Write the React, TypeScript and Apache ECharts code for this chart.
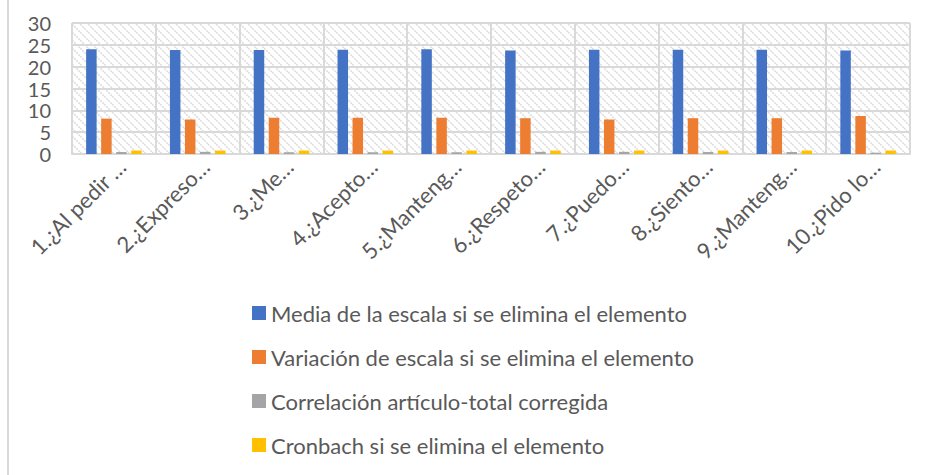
import React, { useEffect, useRef } from "react";
import * as echarts from "echarts";

const categories = [
  "1.¿Al pedir …",
  "2.¿Expreso…",
  "3.¿Me…",
  "4.¿Acepto…",
  "5.¿Manteng…",
  "6.¿Respeto…",
  "7.¿Puedo…",
  "8.¿Siento…",
  "9.¿Manteng…",
  "10.¿Pido lo…",
];

const seriesNames = [
  "Media de la escala si se elimina el elemento",
  "Variación de escala si se elimina el elemento",
  "Correlación artículo-total corregida",
  "Cronbach si se elimina el elemento",
];

const media = [24.0, 23.8, 23.8, 23.9, 24.0, 23.7, 23.9, 23.9, 23.9, 23.7];
const variacion = [8.1, 7.9, 8.3, 8.3, 8.3, 8.2, 7.9, 8.2, 8.2, 8.7];
const correlacion = [0.45, 0.5, 0.4, 0.4, 0.4, 0.5, 0.5, 0.45, 0.45, 0.3];
const cronbach = [0.78, 0.78, 0.78, 0.78, 0.78, 0.78, 0.78, 0.78, 0.78, 0.78];

const yTicks = [0, 5, 10, 15, 20, 25, 30];

const colors = ["#4472C4", "#ED7D31", "#A5A5A5", "#FFC000"];
const FONT = "Lato";
const TEXT = "#595959";

const patternSvg =
  "data:image/svg+xml;charset=utf-8," +
  encodeURIComponent(
    '<svg xmlns="http://www.w3.org/2000/svg" width="8" height="8">' +
      '<rect width="8" height="8" fill="#ffffff"/>' +
      '<path d="M-2,-2 L10,10 M-2,6 L2,10 M6,-2 L10,2" stroke="#dcdcdc" stroke-width="1.5" stroke-dasharray="2,1"/>' +
      "</svg>"
  );

export default function App() {
  const ref = useRef<HTMLDivElement>(null);
  useEffect(() => {
    if (!ref.current) return;
    const chart = echarts.init(ref.current, undefined, { renderer: "svg" });
    const data = [media, variacion, correlacion, cronbach];
    chart.setOption({
      animation: false,
      backgroundColor: "#ffffff",
      textStyle: { fontFamily: FONT },
      grid: {
        left: 72,
        right: 15,
        top: 23,
        bottom: 321,
        show: true,
        backgroundColor: {
          image: patternSvg,
          repeat: "repeat",
          imageWidth: 8,
          imageHeight: 8,
        } as any,
        borderWidth: 0,
      },
      legend: {
        orient: "vertical",
        left: 252,
        top: 302,
        padding: 0,
        itemWidth: 14,
        itemHeight: 14,
        itemGap: 22,
        icon: "rect",
        textStyle: { color: TEXT, fontSize: 22, lineHeight: 22, fontFamily: FONT },
        data: seriesNames,
      },
      xAxis: {
        type: "category",
        data: categories,
        axisLine: { show: true, lineStyle: { color: "#d9d9d9", width: 2 } },
        axisTick: { show: false },
        splitLine: { show: true, lineStyle: { color: "#d9d9d9", width: 2 } },
        axisLabel: {
          rotate: 45,
          interval: 0,
          margin: 1,
          color: TEXT,
          fontSize: 22,
          fontFamily: FONT,
          verticalAlign: "top",
        },
      },
      yAxis: {
        type: "value",
        min: yTicks[0],
        max: yTicks[yTicks.length - 1],
        interval: 5,
        axisLine: { show: false },
        axisTick: { show: false },
        splitLine: { show: true, lineStyle: { color: "#d9d9d9", width: 2 } },
        axisLabel: { color: TEXT, fontSize: 20, lineHeight: 20, fontFamily: FONT, margin: 21 },
      },
      graphic: [
        {
          type: "line",
          shape: { x1: 8, y1: 0, x2: 8, y2: 475 },
          style: { stroke: "#d9d9d9", lineWidth: 2 },
          silent: true,
        },
        {
          type: "line",
          shape: { x1: 910, y1: 23, x2: 910, y2: 154 },
          style: { stroke: "#d9d9d9", lineWidth: 2 },
          silent: true,
        },
      ],
      series: seriesNames.map((name, i) => ({
        name,
        type: "bar",
        data: data[i],
        barWidth: 10.5,
        barGap: "43%",
        itemStyle: { color: colors[i] },
      })),
    });
    return () => chart.dispose();
  }, []);
  return (
    <div
      ref={ref}
      style={{ position: "fixed", left: 0, top: 0, width: 925, height: 475 }}
    />
  );
}
